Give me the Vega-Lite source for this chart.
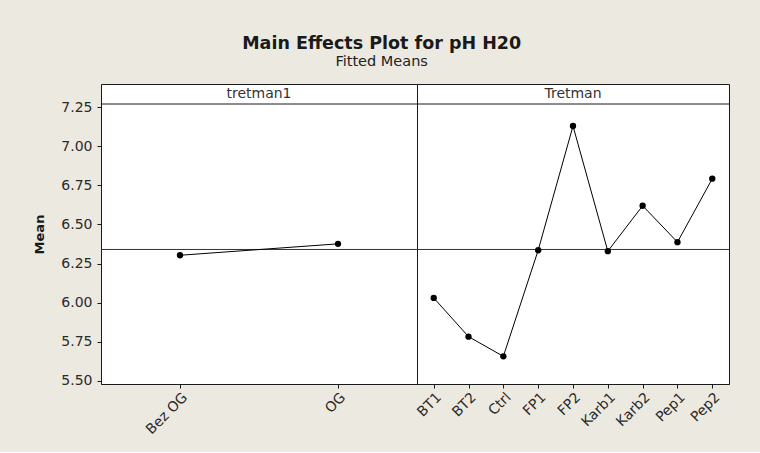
{
  "$schema": "https://vega.github.io/schema/vega-lite/v6.json",
  "background": "#ECE9E1",
  "padding": {"left": 33, "top": 34, "right": 30, "bottom": 14},
  "bounds": "flush",
  "datasets": {
    "means": [
      {"factor": "tretman1", "level": "Bez OG", "mean": 6.303},
      {"factor": "tretman1", "level": "OG", "mean": 6.376},
      {"factor": "Tretman", "level": "BT1", "mean": 6.03},
      {"factor": "Tretman", "level": "BT2", "mean": 5.782},
      {"factor": "Tretman", "level": "Ctrl", "mean": 5.656},
      {"factor": "Tretman", "level": "FP1", "mean": 6.335},
      {"factor": "Tretman", "level": "FP2", "mean": 7.13},
      {"factor": "Tretman", "level": "Karb1", "mean": 6.329},
      {"factor": "Tretman", "level": "Karb2", "mean": 6.62},
      {"factor": "Tretman", "level": "Pep1", "mean": 6.387},
      {"factor": "Tretman", "level": "Pep2", "mean": 6.793}
    ],
    "grand": [{"grand": 6.34, "stripLine": 7.271}]
  },
  "title": {
    "text": "Main Effects Plot for pH H20",
    "subtitle": "Fitted Means",
    "anchor": "middle",
    "font": "DejaVu Sans",
    "fontSize": 17.5,
    "fontWeight": "bold",
    "color": "#1a1a1a",
    "subtitleFont": "DejaVu Sans",
    "subtitleFontSize": 14.5,
    "subtitleColor": "#222222",
    "subtitlePadding": 3,
    "offset": 15
  },
  "config": {
    "view": {"stroke": "#1a1a1a", "strokeWidth": 1, "fill": "white"},
    "axis": {
      "labelFont": "DejaVu Sans",
      "labelFontSize": 14,
      "labelColor": "#2a2a2a",
      "titleFont": "DejaVu Sans",
      "grid": false,
      "tickColor": "#1a1a1a",
      "tickSize": 4,
      "domainColor": "#1a1a1a"
    }
  },
  "spacing": 0,
  "hconcat": [
    {
      "width": 316,
      "height": 300,
      "layer": [
        {
          "data": {"name": "grand"},
          "mark": {"type": "rule", "color": "#333333", "strokeWidth": 1},
          "encoding": {"y": {"field": "grand", "type": "quantitative", "scale": {"domain": [5.479, 7.399], "nice": false, "zero": false}}}
        },
        {
          "data": {"name": "grand"},
          "mark": {"type": "rule", "color": "#1a1a1a", "strokeWidth": 1},
          "encoding": {"y": {"field": "stripLine", "type": "quantitative"}}
        },
        {
          "data": {"values": [{"label": "tretman1", "pos": 7.335}]},
          "mark": {"type": "text", "font": "DejaVu Sans", "fontSize": 14, "color": "#333333", "baseline": "middle"},
          "encoding": {"y": {"field": "pos", "type": "quantitative"}, "text": {"field": "label"}}
        },
        {
          "data": {"name": "means"},
          "transform": [{"filter": "datum.factor === 'tretman1'"}],
          "mark": {"type": "line", "color": "black", "strokeWidth": 1, "point": {"filled": true, "size": 40, "color": "black"}},
          "encoding": {
            "x": {"field": "level", "type": "ordinal", "sort": null, "scale": {"type": "point", "padding": 0.5},
                  "axis": {"title": null, "labelAngle": -45, "domain": true}},
            "y": {"field": "mean", "type": "quantitative",
                  "axis": {"title": "Mean", "titleFontSize": 13, "titleFontWeight": "bold", "titleColor": "#1a1a1a", "titlePadding": 14,
                           "labelPadding": 5,
                           "values": [5.5, 5.75, 6.0, 6.25, 6.5, 6.75, 7.0, 7.25], "format": ".2f", "domain": false}}
          }
        }
      ]
    },
    {
      "width": 312,
      "height": 300,
      "layer": [
        {
          "data": {"name": "grand"},
          "mark": {"type": "rule", "color": "#333333", "strokeWidth": 1},
          "encoding": {"y": {"field": "grand", "type": "quantitative", "scale": {"domain": [5.479, 7.399], "nice": false, "zero": false}, "axis": null}}
        },
        {
          "data": {"name": "grand"},
          "mark": {"type": "rule", "color": "#1a1a1a", "strokeWidth": 1},
          "encoding": {"y": {"field": "stripLine", "type": "quantitative", "axis": null}}
        },
        {
          "data": {"values": [{"label": "Tretman", "pos": 7.335}]},
          "mark": {"type": "text", "font": "DejaVu Sans", "fontSize": 14, "color": "#333333", "baseline": "middle"},
          "encoding": {"y": {"field": "pos", "type": "quantitative", "axis": null}, "text": {"field": "label"}}
        },
        {
          "data": {"name": "means"},
          "transform": [{"filter": "datum.factor === 'Tretman'"}],
          "mark": {"type": "line", "color": "black", "strokeWidth": 1, "point": {"filled": true, "size": 40, "color": "black"}},
          "encoding": {
            "x": {"field": "level", "type": "ordinal", "sort": null, "scale": {"type": "point", "padding": 0.48},
                  "axis": {"title": null, "labelAngle": -45, "domain": true}},
            "y": {"field": "mean", "type": "quantitative", "axis": null}
          }
        }
      ]
    }
  ]
}
